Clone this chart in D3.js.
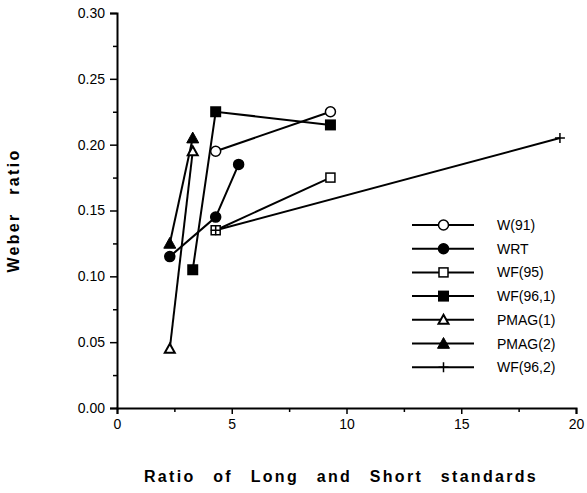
<!DOCTYPE html>
<html>
<head>
<meta charset="utf-8">
<script src="https://cdn.jsdelivr.net/npm/d3@7"></script>
<style>
  body { margin: 0; background: #fff; }
  text { font-family: "Liberation Sans", Arial, sans-serif; }
</style>
</head>
<body>
<div id="viz"></div>
<script>
var margin = {top: 13, right: 9, bottom: 85, left: 117},
    width = 587 - margin.left - margin.right,
    height = 493 - margin.top - margin.bottom;

// series
var seriesNames = ["W(91)", "WRT", "WF(95)", "WF(96,1)", "PMAG(1)", "PMAG(2)", "WF(96,2)"];
var markers = ["circleOpen", "circle", "squareOpen", "square", "triangleOpen", "triangle", "plus"];
var w91 = [[4.3, 0.195], [9.3, 0.225]];
var wrt = [[2.3, 0.115], [4.3, 0.145], [5.3, 0.185]];
var wf95 = [[4.3, 0.135], [9.3, 0.175]];
var wf961 = [[3.3, 0.105], [4.3, 0.225], [9.3, 0.215]];
var pmag1 = [[2.3, 0.045], [3.3, 0.195]];
var pmag2 = [[2.3, 0.125], [3.3, 0.205]];
var wf962 = [[4.3, 0.135], [19.3, 0.205]];
var allSeries = [w91, wrt, wf95, wf961, pmag1, pmag2, wf962];

var xTicks = [0, 5, 10, 15, 20];
var xMinor = [2.5, 7.5, 12.5, 17.5];
var yTicks = [0, 0.05, 0.10, 0.15, 0.20, 0.25, 0.30];
var yMinor = [0.025, 0.075, 0.125, 0.175, 0.225, 0.275];

var svg = d3.select("#viz")
    .append("svg")
    .attr("width", width + margin.left + margin.right)
    .attr("height", height + margin.top + margin.bottom)
    .append("g")
    .attr("transform", "translate(" + margin.left + "," + margin.top + ")");

var x = d3.scaleLinear().domain([0, 20]).range([0, width - 2]);
var y = d3.scaleLinear().domain([0, 0.3]).range([height, 0]);

// x axis
svg.append("g")
    .attr("transform", "translate(0," + height + ")")
    .call(d3.axisBottom(x).tickValues(xTicks).tickSize(6).tickPadding(5).tickFormat(d3.format("d")));
svg.append("g")
    .attr("transform", "translate(0," + height + ")")
    .call(d3.axisBottom(x).tickValues(xMinor).tickSize(4).tickFormat(""))
    .select(".domain").remove();

// y axis
svg.append("g")
    .call(d3.axisLeft(y).tickValues(yTicks).tickSize(7).tickPadding(5).tickFormat(d3.format(".2f")));
svg.append("g")
    .call(d3.axisLeft(y).tickValues(yMinor).tickSize(4).tickFormat(""))
    .select(".domain").remove();

svg.selectAll(".domain").attr("stroke", "#000").attr("stroke-width", 2);
svg.selectAll(".tick line").attr("stroke", "#000").attr("stroke-width", 1.5);
svg.selectAll(".tick text").attr("font-size", 14).attr("fill", "#000")
    .style("font-family", "'Liberation Sans', Arial, sans-serif");

// axis titles
svg.append("text")
    .attr("x", 341 - margin.left)
    .attr("y", height + 74)
    .attr("text-anchor", "middle")
    .attr("font-size", 16)
    .attr("font-weight", "bold")
    .style("letter-spacing", "2.3px")
    .style("word-spacing", "11px")
    .text("Ratio of Long and Short standards");

svg.append("text")
    .attr("transform", "translate(" + (-98) + "," + (height / 2) + ") rotate(-90)")
    .attr("text-anchor", "middle")
    .attr("font-size", 16)
    .attr("font-weight", "bold")
    .style("letter-spacing", "2.3px")
    .style("word-spacing", "11px")
    .text("Weber ratio");

// draw a marker of a given kind at (cx, cy)
function drawMarker(g, kind, cx, cy) {
    if (kind === "circleOpen" || kind === "circle") {
        g.append("circle").attr("cx", cx).attr("cy", cy).attr("r", 5)
            .attr("fill", kind === "circle" ? "#000" : "#fff")
            .attr("stroke", "#000").attr("stroke-width", 1.5);
    } else if (kind === "squareOpen") {
        g.append("rect").attr("x", cx - 4.5).attr("y", cy - 4.5).attr("width", 9).attr("height", 9)
            .attr("fill", "#fff").attr("stroke", "#000").attr("stroke-width", 1.5);
    } else if (kind === "square") {
        g.append("rect").attr("x", cx - 5.5).attr("y", cy - 5.5).attr("width", 11).attr("height", 11)
            .attr("fill", "#000");
    } else if (kind === "triangleOpen" || kind === "triangle") {
        var s = kind === "triangle" ? 6 : 5;
        g.append("path")
            .attr("d", "M" + cx + "," + (cy - s) + "L" + (cx + s) + "," + (cy + s * 0.8) + "L" + (cx - s) + "," + (cy + s * 0.8) + "Z")
            .attr("fill", kind === "triangle" ? "#000" : "#fff")
            .attr("stroke", "#000").attr("stroke-width", kind === "triangle" ? 1 : 2);
    } else if (kind === "plus") {
        g.append("path")
            .attr("d", "M" + (cx - 5) + "," + cy + "H" + (cx + 5) + "M" + cx + "," + (cy - 5) + "V" + (cy + 5))
            .attr("stroke", "#000").attr("stroke-width", 1.5);
    }
}

var line = d3.line()
    .x(function (d) { return x(d[0]); })
    .y(function (d) { return y(d[1]); });

allSeries.forEach(function (data) {
    svg.append("path")
        .datum(data)
        .attr("fill", "none")
        .attr("stroke", "#000")
        .attr("stroke-width", 2)
        .attr("d", line);
});
allSeries.forEach(function (data, i) {
    var g = svg.append("g");
    data.forEach(function (d) {
        drawMarker(g, markers[i], x(d[0]), y(d[1]));
    });
});

// legend
var legend = svg.append("g").attr("transform", "translate(" + (412 - margin.left) + "," + (225 - margin.top) + ")");
seriesNames.forEach(function (name, i) {
    var row = legend.append("g").attr("transform", "translate(0," + (i * 23.7) + ")");
    row.append("line").attr("x1", 0).attr("x2", 62).attr("y1", 0).attr("y2", 0)
        .attr("stroke", "#000").attr("stroke-width", 2);
    drawMarker(row, markers[i], 31.5, 0);
    row.append("text").attr("x", 85).attr("y", 5).attr("font-size", 14).text(name);
});
</script>
</body>
</html>
